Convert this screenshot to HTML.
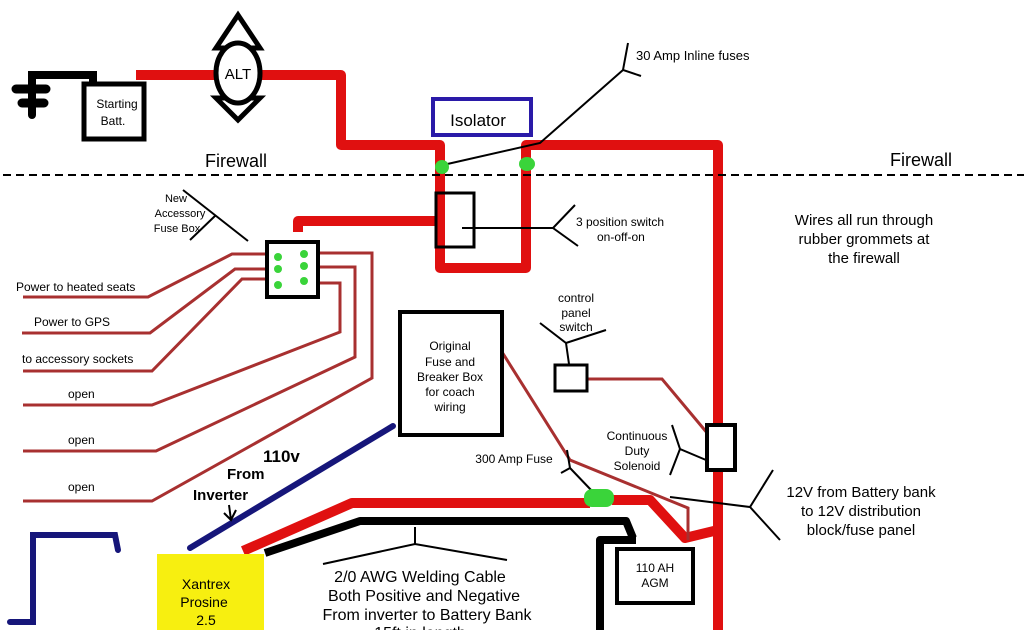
<!DOCTYPE html>
<html><head><style>body{margin:0;background:#fff}svg{display:block}text{font-family:"Liberation Sans",sans-serif;fill:#000}</style></head><body>
<svg width="1024" height="630" viewBox="0 0 1024 630" xmlns="http://www.w3.org/2000/svg">
<rect width="1024" height="630" fill="#fff"/>
<!-- ground -->
<g stroke="#000" stroke-linecap="round" fill="none">
<path d="M32,115 V75 H93 V85" stroke-width="8"/>
<path d="M16,89 H46 M22,103 H44" stroke-width="9"/>
</g>
<rect x="84" y="84" width="60" height="55" fill="#fff" stroke="#000" stroke-width="5"/>
<text x="117" y="108" font-size="12" text-anchor="middle">Starting</text>
<text x="113" y="125" font-size="12" text-anchor="middle">Batt.</text>
<!-- main red -->
<g fill="none" stroke="#e01010" stroke-width="10" stroke-linejoin="round">
<path d="M136,75 H341 V145 H440 V268 H526 V145 H718 V630"/>
<path d="M298,232 V221 H436"/>
<path d="M243,551 L352,503 H590 M612,500 H650 L685,538 L718,530"/>
</g>
<!-- ALT -->
<path d="M216,48 L238,15 L260,48 Z M216,98 L238,120 L260,98 Z" fill="none" stroke="#000" stroke-width="5"/>
<ellipse cx="238" cy="73" rx="22" ry="30" fill="#fff" stroke="#000" stroke-width="5"/>
<text x="238" y="79" font-size="15" text-anchor="middle">ALT</text>
<!-- isolator -->
<rect x="433" y="99" width="98" height="36" fill="#fff" stroke="#2a1aa8" stroke-width="4"/>
<text x="478" y="126" font-size="17" text-anchor="middle">Isolator</text>
<!-- firewall -->
<line x1="3" y1="175" x2="1024" y2="175" stroke="#000" stroke-width="2" stroke-dasharray="8,5"/>
<text x="205" y="167" font-size="18">Firewall</text>
<text x="890" y="166" font-size="18">Firewall</text>
<!-- inline fuses pointer -->
<g stroke="#000" stroke-width="2" fill="none">
<path d="M443,165 L540,143 L623,70 M628,43 L623,70 L641,76"/>
</g>
<ellipse cx="442" cy="167" rx="7" ry="7" fill="#3ad43a"/>
<ellipse cx="527" cy="164" rx="8" ry="7" fill="#3ad43a"/>
<text x="636" y="60" font-size="13">30 Amp Inline fuses</text>
<!-- switch -->
<rect x="436" y="193" width="38" height="54" fill="none" stroke="#000" stroke-width="3"/>
<path d="M462,228 H553 M575,205 L553,228 L578,246" stroke="#000" stroke-width="2" fill="none"/>
<text x="576" y="226" font-size="12">3 position switch</text>
<text x="597" y="241" font-size="12">on-off-on</text>
<text x="864" y="225" font-size="15" text-anchor="middle">Wires all run through</text>
<text x="864" y="244" font-size="15" text-anchor="middle">rubber grommets at</text>
<text x="864" y="263" font-size="15" text-anchor="middle">the firewall</text>
<!-- accessory fuse box -->
<text x="176" y="202" font-size="11" text-anchor="middle">New</text>
<text x="180" y="217" font-size="11" text-anchor="middle">Accessory</text>
<text x="177" y="232" font-size="11" text-anchor="middle">Fuse Box</text>
<path d="M183,190 L248,241 M190,240 L216,215" stroke="#000" stroke-width="2"/>
<g fill="none" stroke="#a83030" stroke-width="3">
<path d="M23,297 H148 L232,254 H270"/>
<path d="M22,333 H150 L235,269 H270"/>
<path d="M23,371 H152 L242,279 H270"/>
<path d="M23,405 H152 L340,332 V283 H310"/>
<path d="M23,451 H156 L355,357 V267 H310"/>
<path d="M23,501 H152 L372,378 V253 H310"/>
<path d="M502,352 L570,460 L688,508 V540" />
<path d="M588,379 H662 L708,434"/>
</g>
<rect x="267" y="242" width="51" height="55" fill="#fff" stroke="#000" stroke-width="4"/>
<g fill="#3ad43a"><circle cx="278" cy="257" r="4"/><circle cx="278" cy="269" r="4"/><circle cx="278" cy="285" r="4"/><circle cx="304" cy="254" r="4"/><circle cx="304" cy="266" r="4"/><circle cx="304" cy="281" r="4"/></g>
<text x="16" y="291" font-size="12">Power to heated seats</text>
<text x="34" y="326" font-size="12">Power to GPS</text>
<text x="22" y="363" font-size="12">to accessory sockets</text>
<text x="68" y="398" font-size="12">open</text>
<text x="68" y="444" font-size="12">open</text>
<text x="68" y="491" font-size="12">open</text>
<!-- original fuse box -->
<rect x="400" y="312" width="102" height="123" fill="#fff" stroke="#000" stroke-width="4"/>
<g font-size="12" text-anchor="middle"><text x="450" y="350">Original</text><text x="450" y="366">Fuse and</text><text x="450" y="381">Breaker Box</text><text x="450" y="396">for coach</text><text x="450" y="411">wiring</text></g>
<!-- control switch -->
<text x="576" y="302" font-size="12" text-anchor="middle">control</text>
<text x="576" y="317" font-size="12" text-anchor="middle">panel</text>
<text x="576" y="331" font-size="12" text-anchor="middle">switch</text>
<path d="M540,323 L566,343 L606,330 M566,343 L569,364" stroke="#000" stroke-width="2" fill="none"/>
<rect x="555" y="365" width="32" height="26" fill="#fff" stroke="#000" stroke-width="3"/>
<!-- solenoid -->
<rect x="707" y="425" width="28" height="45" fill="#fff" stroke="#000" stroke-width="4"/>
<text x="637" y="440" font-size="12" text-anchor="middle">Continuous</text>
<text x="637" y="455" font-size="12" text-anchor="middle">Duty</text>
<text x="637" y="470" font-size="12" text-anchor="middle">Solenoid</text>
<path d="M672,425 L680,449 L706,460 M680,449 L670,475" stroke="#000" stroke-width="2" fill="none"/>
<!-- 12v label -->
<path d="M670,497 L750,507 L773,470 M750,507 L780,540" stroke="#000" stroke-width="2" fill="none"/>
<text x="861" y="497" font-size="15" text-anchor="middle">12V from Battery bank</text>
<text x="861" y="516" font-size="15" text-anchor="middle">to 12V distribution</text>
<text x="861" y="535" font-size="15" text-anchor="middle">block/fuse panel</text>
<!-- 300 amp fuse -->
<text x="514" y="463" font-size="12" text-anchor="middle">300 Amp Fuse</text>
<path d="M567,450 L570,468 L592,491 M570,468 L561,473" stroke="#000" stroke-width="2" fill="none"/>
<rect x="584" y="489" width="30" height="18" rx="8" fill="#3ad43a"/>
<!-- blue -->
<g fill="none" stroke="#16167a" stroke-width="6" stroke-linecap="round">
<path d="M190,548 L393,426"/>
<path d="M10,622 H33 V535 H115 L118,550"/>
</g>
<text x="263" y="462" font-size="17" font-weight="bold">110v</text>
<text x="227" y="479" font-size="15" font-weight="bold">From</text>
<text x="193" y="500" font-size="15" font-weight="bold">Inverter</text>
<path d="M229,505 L231,520 M224,513 L231,520 L236,510" stroke="#000" stroke-width="2" fill="none"/>
<!-- black cables -->
<g fill="none" stroke="#000" stroke-width="8" stroke-linejoin="round">
<path d="M265,553 L360,521 H626 L633,538"/>
<path d="M600,630 V540 H636"/>
</g>
<rect x="617" y="549" width="76" height="54" fill="#fff" stroke="#000" stroke-width="4"/>
<text x="655" y="572" font-size="12" text-anchor="middle">110 AH</text>
<text x="655" y="587" font-size="12" text-anchor="middle">AGM</text>
<path d="M323,564 L415,544 L507,560 M415,544 V527" stroke="#000" stroke-width="2" fill="none"/>
<rect x="157" y="554" width="107" height="76" fill="#f7ef10"/>
<text x="206" y="589" font-size="14" text-anchor="middle">Xantrex</text>
<text x="204" y="607" font-size="14" text-anchor="middle">Prosine</text>
<text x="206" y="625" font-size="14" text-anchor="middle">2.5</text>
<g font-size="16" text-anchor="middle"><text x="420" y="582">2/0 AWG Welding Cable</text><text x="424" y="601">Both Positive and Negative</text><text x="427" y="620">From inverter to Battery Bank</text><text x="420" y="638">15ft in length</text></g>
</svg>
</body></html>
